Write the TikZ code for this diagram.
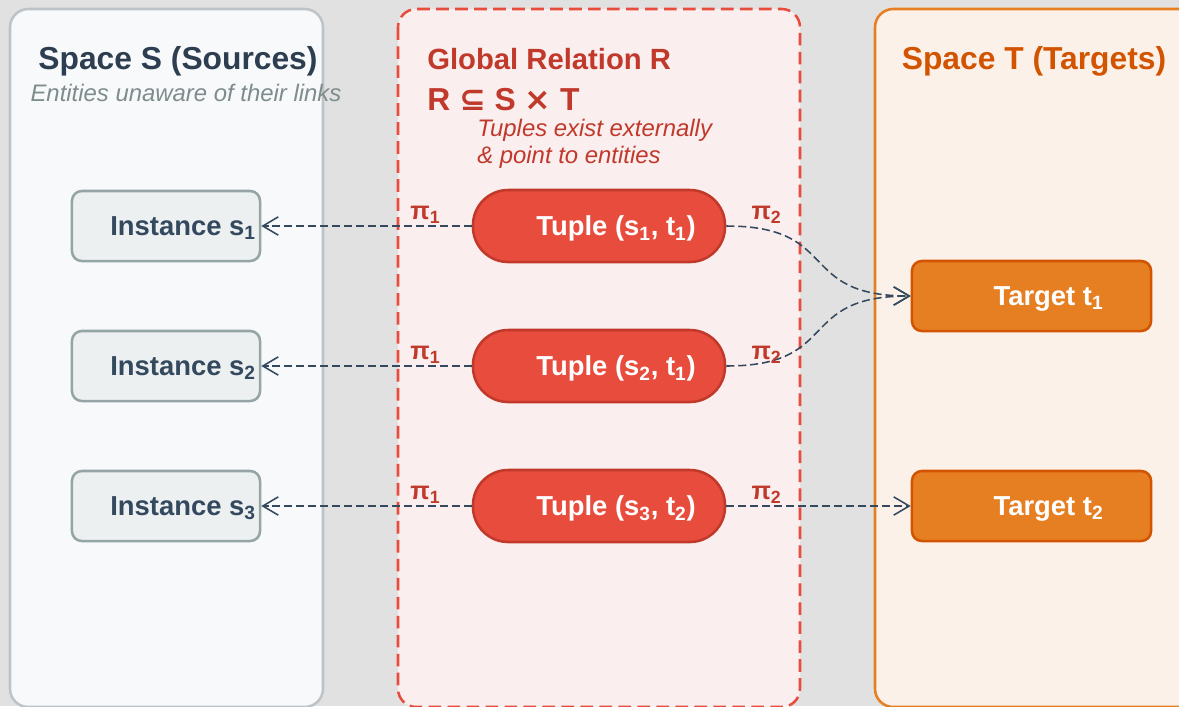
\documentclass[tikz,border=0pt]{standalone}
\usepackage{fontspec}
\setmainfont{Liberation Sans}
\newfontfamily\symfont{DejaVu Sans}
\usepackage{xcolor}
\usetikzlibrary{arrows.meta,positioning}
\definecolor{bggray}{HTML}{E1E1E1}
\definecolor{sfill}{HTML}{F8F9FA}
\definecolor{sline}{HTML}{BDC3C7}
\definecolor{rfill}{HTML}{FAEEEE}
\definecolor{rline}{HTML}{E74C3C}
\definecolor{tfill}{HTML}{FCF1E9}
\definecolor{tline}{HTML}{E67E22}
\definecolor{darkblue}{HTML}{2C3E50}
\definecolor{slate}{HTML}{34495E}
\definecolor{grayish}{HTML}{7F8C8D}
\definecolor{instfill}{HTML}{ECF0F1}
\definecolor{instline}{HTML}{95A5A6}
\definecolor{darkred}{HTML}{C0392B}
\definecolor{darkorange}{HTML}{D35400}
\newcommand{\pad}{\hspace*{0.85cm}}
\newcommand{\titlefont}{\fontsize{22.6}{26}\selectfont\bfseries}
\newcommand{\notefont}{\fontsize{17}{19.2}\selectfont\itshape}

\begin{document}
\begin{tikzpicture}[x=0.025cm, y=-0.025cm, every node/.style={inner sep=0pt},
		panel/.style={rounded corners=13pt, line width=1.8pt},
		box/.style={draw, line width=1.8pt, minimum height=1.75cm, text depth=0pt, font=\fontsize{19.5}{23}\selectfont\bfseries},
		inst/.style={box, draw=instline, fill=instfill, text=slate, rounded corners=7pt, minimum width=4.7cm},
		tup/.style={box, draw=darkred, fill=rline, text=white, rounded corners=0.88cm, minimum width=6.3cm, minimum height=1.8cm},
		tgt/.style={box, draw=darkorange, fill=tline, text=white, rounded corners=7pt, minimum width=5.975cm},
		proj/.style={text=darkred, font=\fontsize{18}{20}\selectfont\bfseries},
		link/.style={slate, line width=1.1pt, dash pattern=on 5.7pt off 2.8pt, -{Straight Barb[length=11pt,width=13pt]}}]
		
		\clip (0,0) rectangle (1179,706);
		\fill[bggray] (0,0) rectangle (1179,706);
		
		% the three spaces
		\draw[panel, draw=sline, fill=sfill] (10,9) rectangle (323,707);
		\draw[panel, draw=rline, fill=rfill, dash pattern=on 9pt off 4.5pt] (398,9) rectangle (800,707);
		\draw[panel, draw=tline, fill=tfill] (875,9) rectangle (1210,707);
		
		\node[anchor=base, text=darkblue, font=\titlefont] (ts) at (178,69) {Space S (Sources)};
		\node[anchor=base, text=grayish, font=\notefont] (ns) at (186,101) {Entities unaware of their links};
		\node[anchor=base west, text=darkred, font=\fontsize{20.8}{24}\selectfont\bfseries] (tr) at (427,69) {Global Relation R};
		\node[anchor=base west, text=darkred, font=\titlefont] (rel) at (427,110) {R {\symfont ⊆} S {\symfont ×} T};
		\node[anchor=base west, text=darkred, font=\notefont, align=left] (nr) at (477,163) {Tuples exist externally\\\& point to entities};
		\node[anchor=base, text=darkorange, font=\titlefont] (tt) at (1034,69) {Space T (Targets)};
		
		\node[inst] (s1) at (166,226) {\pad Instance s\textsubscript{1}};
		\node[inst] (s2) at (166,366) {\pad Instance s\textsubscript{2}};
		\node[inst] (s3) at (166,506) {\pad Instance s\textsubscript{3}};
		
		\node[tup] (p1) at (599,226) {\pad Tuple (s\textsubscript{1}, t\textsubscript{1})};
		\node[tup] (p2) at (599,366) {\pad Tuple (s\textsubscript{2}, t\textsubscript{1})};
		\node[tup] (p3) at (599,506) {\pad Tuple (s\textsubscript{3}, t\textsubscript{2})};
		
		\node[tgt] (t1) at (1031.5,296) {\pad Target t\textsubscript{1}};
		\node[tgt] (t2) at (1031.5,506) {\pad Target t\textsubscript{2}};
		
		\path[link]
		(p1) edge (s1)
		(p2) edge (s2)
		(p3) edge (s3)
		(p1.east) edge[out=0, in=180, looseness=1.5] (t1.west)
		(p2.east) edge[out=0, in=180, looseness=1.5] (t1.west)
		(p3) edge (t2)
		;
		
		\node[proj, above left=0.05cm and 0.775cm of p1.west] (a1) {π\textsubscript{1}};
		\node[proj, above left=0.05cm and 0.775cm of p2.west] (a2) {π\textsubscript{1}};
		\node[proj, above left=0.05cm and 0.775cm of p3.west] (a3) {π\textsubscript{1}};
		\node[proj, above right=0.05cm and 0.625cm of p1.east] (b1) {π\textsubscript{2}};
		\node[proj, above right=0.05cm and 0.625cm of p2.east] (b2) {π\textsubscript{2}};
		\node[proj, above right=0.05cm and 0.625cm of p3.east] (b3) {π\textsubscript{2}};
		\end{tikzpicture}
\end{document}
